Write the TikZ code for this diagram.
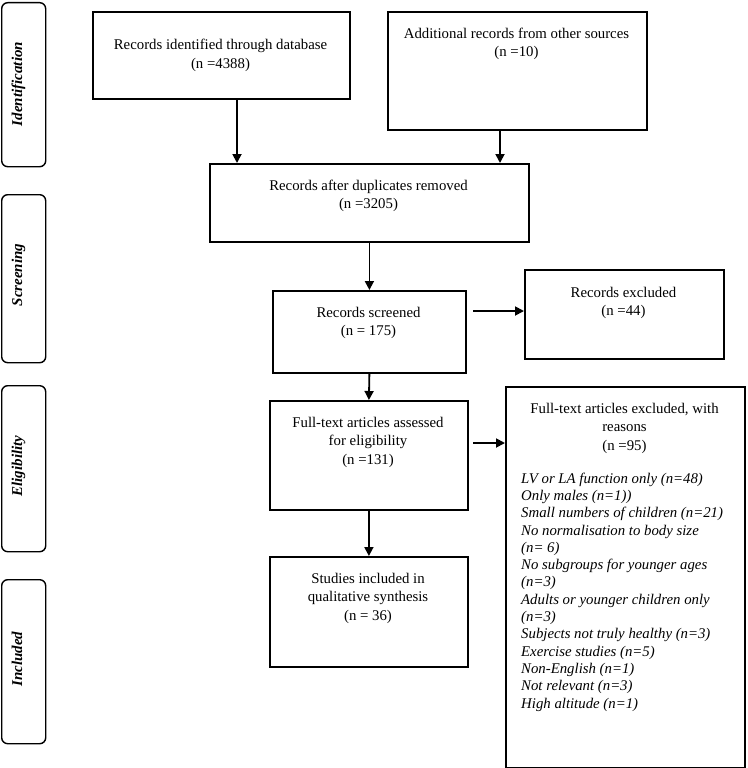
\documentclass[tikz,border=0pt]{standalone}
\usepackage{fontspec}
\setmainfont{Liberation Serif}
\usetikzlibrary{arrows.meta,calc}
\begin{document}
\begin{tikzpicture}[x=1pt,y=-1pt,
  box/.style={draw, line width=1.8pt, inner sep=0pt, anchor=north west},
  sidebox/.style={draw, line width=1.4pt, rounded corners=6pt, inner sep=0pt, anchor=north west, minimum width=44pt},
  sidetxt/.style={font=\fontsize{15}{17}\selectfont\bfseries\itshape, inner sep=0pt, anchor=base, rotate=90},
  txt/.style={align=center, font=\fontsize{14.8}{18.5}\selectfont, inner sep=0pt, anchor=base},
  listtxt/.style={align=left, font=\fontsize{14.8}{17.3}\selectfont\itshape, inner sep=0pt, anchor=base west},
  arr/.style={line width=1.8pt, -{Triangle[length=9pt,width=9pt]}}
]
\useasboundingbox (0,0) rectangle (747,768);

% side phase boxes
\node[sidebox, minimum height=164pt] (s1) at (1,2) {};
\node[sidebox, minimum height=168pt] (s2) at (1,194) {};
\node[sidebox, minimum height=166pt] (s3) at (1,385) {};
\node[sidebox, minimum height=164pt] (s4) at (1,579) {};
\node[sidetxt] (l1) at (22,84) {Identification};
\node[sidetxt] (l2) at (22,275) {Screening};
\node[sidetxt] (l3) at (22,466) {Eligibility};
\node[sidetxt] (l4) at (22,659) {Included};

% main boxes
\node[box, minimum width=257pt, minimum height=87pt] (tl) at (92,11) {};
\node[box, minimum width=259pt, minimum height=118pt] (tr) at (387,11) {};
\node[box, minimum width=319pt, minimum height=78pt] (dup) at (209,163) {};
\node[box, minimum width=193pt, minimum height=82pt] (scr) at (272,290) {};
\node[box, minimum width=199pt, minimum height=89pt] (exc) at (524,269) {};
\node[box, minimum width=198pt, minimum height=109pt] (full) at (269,400) {};
\node[box, minimum width=239pt, minimum height=381pt] (exc2) at (505,386) {};
\node[box, minimum width=198pt, minimum height=110pt] (stu) at (269,556) {};

% texts (base anchor = baseline of last line)
\node[txt] (ttl) at (220.5,68.5) {Records identified through database\\(n =4388)};
\node[txt] (ttr) at (516.5,56.5) {Additional records from other sources\\(n =10)};
\node[txt] (tdup) at (368.5,208.5) {Records after duplicates removed\\(n =3205)};
\node[txt] (tscr) at (368.5,335.5) {Records screened\\(n = 175)};
\node[txt] (texc) at (623.5,315.5) {Records excluded\\(n =44)};
\node[txt] (tfull) at (368,464) {Full-text articles assessed\\for eligibility\\(n =131)};
\node[txt] (tstu) at (368,620) {Studies included in\\qualitative synthesis\\(n = 36)};
\node[txt] (texc2) at (624.5,450) {Full-text articles excluded, with\\reasons\\(n =95)};
\node[listtxt] (list) at (521,708) {LV or LA function only (n=48)\\
Only males (n=1))\\
Small numbers of children (n=21)\\
No normalisation to body size\\
(n= 6)\\
No subgroups for younger ages\\
(n=3)\\
Adults or younger children only\\
(n=3)\\
Subjects not truly healthy (n=3)\\
Exercise studies (n=5)\\
Non-English (n=1)\\
Not relevant (n=3)\\
High altitude (n=1)};

% connectors
\coordinate (c1) at (237,98);
\coordinate (c2) at (500,129);
\coordinate (c3) at (473,311);
\coordinate (c4) at (473,443);
\draw[arr] (c1) -- (c1 |- dup.north);
\draw[arr] (c2) -- (c2 |- dup.north);
\draw[arr] (dup.south -| scr.north) -- (scr.north);
\draw[arr] (c3) -- (c3 -| exc.west);
\draw[arr] (scr.south) -- (full.north);
\draw[arr] (c4) -- (c4 -| exc2.west);
\draw[arr] (full.south) -- (stu.north);
\end{tikzpicture}
\end{document}
